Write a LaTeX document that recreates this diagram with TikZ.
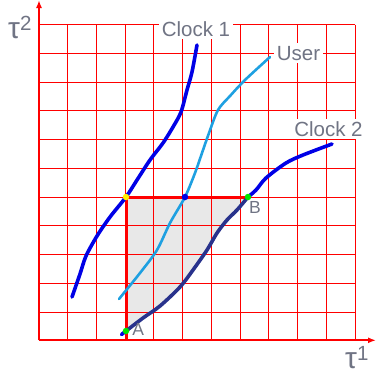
\documentclass[tikz,border=0pt]{standalone}
\usepackage{fontspec}
\setmainfont{Liberation Sans}
\usetikzlibrary{arrows.meta}
\definecolor{clockblue}{RGB}{0,0,230}
\definecolor{userblue}{RGB}{30,160,225}
\definecolor{navyblue}{RGB}{40,50,140}
\definecolor{labelgray}{RGB}{112,116,132}
\definecolor{regiongray}{RGB}{232,232,232}
\definecolor{dotgreen}{RGB}{0,230,0}
\begin{document}
\begin{tikzpicture}[x=1pt,y=-1pt,
  gridline/.style={red, line width=0.9pt},
  axisline/.style={red, line width=2pt, -{Latex[length=8pt,width=6pt]}},
  bound/.style={red, line width=3pt},
  curve/.style={line width=3.6pt, line cap=round, line join=round},
  lbl/.style={text=labelgray, font=\fontsize{20.5}{20.5}\selectfont, inner sep=2.5pt, fill=white, anchor=base},
  ptl/.style={text=labelgray, font=\fontsize{17.5}{17.5}\selectfont, inner sep=0pt, anchor=base},
  taul/.style={text=labelgray, inner sep=0pt, anchor=base west},
  dot/.style={circle, inner sep=0pt, minimum size=6.5pt}
]
\useasboundingbox (0,0) rectangle (376,373);
% shaded region
\fill[regiongray] (126,197) -- (126,331)
  -- plot[smooth] coordinates {(126,331) (143,318) (160,306) (180,287) (193,270) (207,250) (217,233) (227,220) (237,210) (248,197)}
  -- cycle;
% grid
\foreach \i in {0,...,11} {
  \draw[gridline] ({39+\i*28.727},24.7) -- ({39+\i*28.727},340.3);
  \draw[gridline] (39,{24.7+\i*28.727}) -- (355,{24.7+\i*28.727});
}
% axes
\coordinate (O) at (39,340.3);
\coordinate (ytip) at (39,0);
\coordinate (xtip) at (376,340.3);
\draw[axisline] (O) -- (ytip);
\draw[axisline] (O) -- (xtip);
% boundary of region
\coordinate (P0) at (126,340.3);
\coordinate (Bc) at (248,197);
\draw[bound] (P0) -- (126,197) -- (Bc);
% curves
\draw[curve, clockblue] plot[smooth] coordinates {(72,297) (80,274) (86,256) (97,236) (110,217) (126,197) (137,180) (150,160) (163,143) (173,127) (181,112) (187,90) (192,72) (197,45)};
\draw[curve, userblue, line width=2.6pt] plot[smooth] coordinates {(119,299) (140,273) (157,250) (170,223) (185,197) (195,173) (202,153) (209,133) (218,110) (230,96) (245,80) (270,57)};
\draw[curve, clockblue] (121.5,334.5) -- (126,331);
\draw[curve, navyblue] plot[smooth] coordinates {(126,331) (143,318) (160,306) (180,287) (193,270) (207,250) (217,233) (227,220) (237,210) (248,197)};
\draw[curve, clockblue] plot[smooth] coordinates {(248,197) (256,190) (266,178) (286,163) (303,155) (332,144)};
% dots
\node[dot, fill=yellow] (P) at (126,197) {};
\node[dot, fill=clockblue] (Q) at (185,197) {};
\node[dot, fill=dotgreen] (A) at (126,331) {};
\node[dot, fill=dotgreen] (B) at (248,197) {};
% labels
\node[lbl] (c1) at (196,36.7) {Clock 1};
\node[lbl] (us) at (298.5,60) {User};
\node[lbl] (c2) at (328.5,136.7) {Clock 2};
\node[ptl] (la) at (138.3,335) {A};
\node[ptl] (lb) at (255,213.3) {B};
\node[taul] (t2) at (8,38.3) {{\fontsize{30}{30}\selectfont τ}\raisebox{7.6pt}{\fontsize{20.5}{20.5}\selectfont 2}};
\node[taul] (t1) at (345,368) {{\fontsize{30}{30}\selectfont τ}\raisebox{7.6pt}{\fontsize{20.5}{20.5}\selectfont 1}};
\end{tikzpicture}
\end{document}
